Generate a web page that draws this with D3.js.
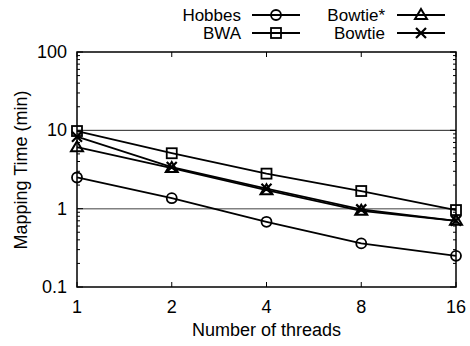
<!DOCTYPE html>
<html>
<head>
<meta charset="utf-8">
<script src="https://cdn.jsdelivr.net/npm/d3@7"></script>
<style>
body { margin: 0; background: #fff; }
text { font-family: "Liberation Sans", Arial, sans-serif; }
</style>
</head>
<body>
<script>
// threads on the x axis, mapping time (min) per tool
var threads = [1, 2, 4, 8, 16];
var hobbes = [2.5, 1.36, 0.68, 0.36, 0.25];
var bwa = [9.8, 5.1, 2.8, 1.68, 0.96];
var bowtieStar = [6.1, 3.3, 1.72, 0.94, 0.70];
var bowtie = [8.3, 3.4, 1.8, 0.98, 0.70];
var yTicks = [0.1, 1, 10, 100];
var yTickLabels = ["0.1", "1", "10", "100"];

var series = [
    {name: "Hobbes", values: hobbes, mark: "circle"},
    {name: "BWA", values: bwa, mark: "square"},
    {name: "Bowtie*", values: bowtieStar, mark: "triangle"},
    {name: "Bowtie", values: bowtie, mark: "cross"}
];

var W = 470, H = 346;
// plot frame ("top" is taken on window, so pTop)
var pLeft = 77, pRight = 456, pTop = 52, pBottom = 287;
var FS = 18;

var svg = d3.select("body").append("svg")
    .attr("width", W)
    .attr("height", H);

var x = d3.scaleLog().base(2).domain([1, 16]).range([pLeft, pRight]);
var y = d3.scaleLog().domain([0.1, 100]).range([pBottom, pTop]);

// grid lines at 1 and 10
svg.append("line")
    .attr("x1", pLeft).attr("x2", pRight)
    .attr("y1", y(10)).attr("y2", y(10))
    .attr("stroke", "#222").attr("stroke-width", 1);
svg.append("line")
    .attr("x1", pLeft).attr("x2", pRight)
    .attr("y1", y(1)).attr("y2", y(1))
    .attr("stroke", "#808080").attr("stroke-width", 1.5);

// minor and major y ticks, both sides
var minor = [];
[0.1, 1, 10].forEach(function (d) {
    for (var k = 2; k <= 9; k++) { minor.push(d * k); }
});
var tickG = svg.append("g").attr("stroke", "#000").attr("stroke-width", 1);
minor.forEach(function (v) {
    tickG.append("line").attr("x1", pLeft).attr("x2", pLeft + 3)
        .attr("y1", y(v)).attr("y2", y(v));
    tickG.append("line").attr("x1", pRight).attr("x2", pRight - 3)
        .attr("y1", y(v)).attr("y2", y(v));
});
yTicks.forEach(function (v) {
    tickG.append("line").attr("x1", pLeft).attr("x2", pLeft + 6)
        .attr("y1", y(v)).attr("y2", y(v));
    tickG.append("line").attr("x1", pRight).attr("x2", pRight - 6)
        .attr("y1", y(v)).attr("y2", y(v));
});
threads.forEach(function (t) {
    tickG.append("line").attr("x1", x(t)).attr("x2", x(t))
        .attr("y1", pBottom).attr("y2", pBottom - 5);
    tickG.append("line").attr("x1", x(t)).attr("x2", x(t))
        .attr("y1", pTop).attr("y2", pTop + 5);
});

// frame
svg.append("rect")
    .attr("x", pLeft).attr("y", pTop)
    .attr("width", pRight - pLeft).attr("height", pBottom - pTop)
    .attr("fill", "none").attr("stroke", "#000").attr("stroke-width", 1.5);

// tick labels
svg.selectAll(".ylab").data(yTicks).enter().append("text")
    .attr("x", pLeft - 10)
    .attr("y", function (d) { return y(d) + 6; })
    .attr("text-anchor", "end")
    .attr("font-size", FS)
    .text(function (d, i) { return yTickLabels[i]; });
svg.selectAll(".xlab").data(threads).enter().append("text")
    .attr("x", function (d) { return x(d); })
    .attr("y", 313)
    .attr("text-anchor", "middle")
    .attr("font-size", FS)
    .text(function (d) { return d; });

svg.append("text")
    .attr("x", (pLeft + pRight) / 2).attr("y", 336)
    .attr("text-anchor", "middle").attr("font-size", FS)
    .text("Number of threads");
svg.append("text")
    .attr("transform", "translate(27,170) rotate(-90)")
    .attr("text-anchor", "middle").attr("font-size", FS)
    .text("Mapping Time (min)");

function drawMark(g, kind, cx, cy) {
    if (kind == "circle") {
        g.append("circle").attr("cx", cx).attr("cy", cy).attr("r", 5)
            .attr("fill", "none").attr("stroke", "#000").attr("stroke-width", 1.8);
    } else if (kind == "square") {
        g.append("rect").attr("x", cx - 5).attr("y", cy - 5)
            .attr("width", 10).attr("height", 10)
            .attr("fill", "none").attr("stroke", "#000").attr("stroke-width", 1.8);
    } else if (kind == "triangle") {
        g.append("path")
            .attr("d", "M" + cx + "," + (cy - 6) + "L" + (cx + 6) + "," + (cy + 4) +
                "L" + (cx - 6) + "," + (cy + 4) + "Z")
            .attr("fill", "none").attr("stroke", "#000").attr("stroke-width", 2);
    } else {
        g.append("path")
            .attr("d", "M" + (cx - 5) + "," + (cy - 5) + "L" + (cx + 5) + "," + (cy + 5) +
                "M" + (cx - 5) + "," + (cy + 5) + "L" + (cx + 5) + "," + (cy - 5))
            .attr("fill", "none").attr("stroke", "#000").attr("stroke-width", 2.2);
    }
}

var line = d3.line()
    .x(function (d, i) { return x(threads[i]); })
    .y(function (d) { return y(d); });

series.forEach(function (s) {
    var g = svg.append("g");
    g.append("path").attr("d", line(s.values))
        .attr("fill", "none").attr("stroke", "#000").attr("stroke-width", 1.8);
    s.values.forEach(function (v, i) {
        drawMark(g, s.mark, x(threads[i]), y(v));
    });
});

// legend, two columns
var legendPos = [
    {tx: 241, lx: 252, y: 15},
    {tx: 241, lx: 252, y: 33},
    {tx: 385, lx: 397, y: 15},
    {tx: 385, lx: 397, y: 33}
];
series.forEach(function (s, i) {
    var p = legendPos[i];
    var g = svg.append("g");
    g.append("text").attr("x", p.tx).attr("y", p.y + 6)
        .attr("text-anchor", "end").attr("font-size", 17).text(s.name);
    g.append("line").attr("x1", p.lx).attr("x2", p.lx + 48)
        .attr("y1", p.y).attr("y2", p.y)
        .attr("stroke", "#000").attr("stroke-width", 1.8);
    drawMark(g, s.mark, p.lx + 24, p.y);
});
</script>
</body>
</html>
